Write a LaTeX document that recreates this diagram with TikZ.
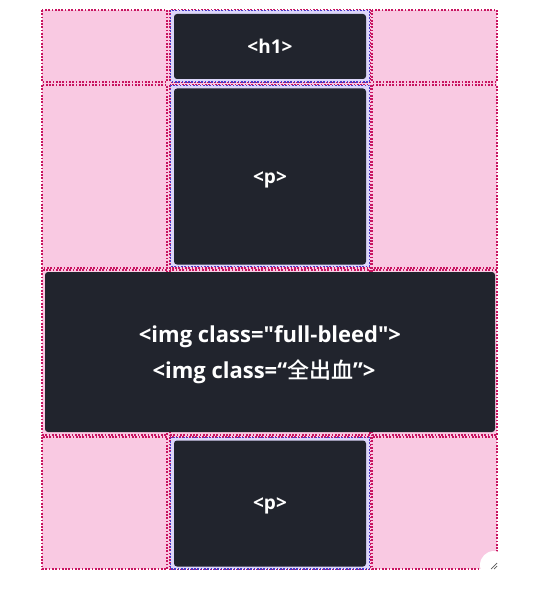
\documentclass[tikz,border=0pt]{standalone}
\usepackage{fontspec}
\setmainfont{Open Sans}[Ligatures=TeXOff]
\newfontfamily\cjkfont{Noto Sans CJK SC}[BoldFont={* Medium}]
\definecolor{pinkfill}{HTML}{F9C9E2}
\definecolor{pinkline}{HTML}{C81460}
\definecolor{blueline}{HTML}{4A3AC8}
\definecolor{lavfill}{HTML}{DCD6FA}
\definecolor{darkbox}{HTML}{21242D}
\tikzset{
  pinkcell/.style={draw=pinkline, line width=1.7pt, dash pattern=on 1.7pt off 1.6pt},
  bluecell/.style={draw=blueline, fill=lavfill, line width=1.7pt, dash pattern=on 1.7pt off 1.6pt},
  item/.style={fill=darkbox, rounded corners=3pt, inner sep=0pt},
  lbl/.style={text=white, font=\bfseries\fontsize{19}{22}\selectfont, inner sep=0pt, anchor=base},
  biglbl/.style={text=white, font=\bfseries\fontsize{22}{26}\selectfont, inner sep=0pt, anchor=base},
}
\begin{document}
\begin{tikzpicture}[x=1pt,y=-1pt]
\useasboundingbox (0,0) rectangle (553,591);
\fill[white] (0,0) rectangle (553,591);
% grid background
\fill[pinkfill] (42,10) rectangle (497,569);
% pink cell outlines
\foreach \ya/\yb in {10/82, 85/268, 270/435, 437/569}{
  \foreach \xa/\xb in {42/167, 170/370, 372/497}{
    \draw[pinkcell] (\xa,\ya) rectangle (\xb,\yb);
  }
}
% middle column content areas
\draw[bluecell] (170.5,10.5) rectangle (369.5,82);
\draw[bluecell] (170.5,85.5) rectangle (369.5,266.5);
\draw[bluecell] (170.5,437.5) rectangle (369.5,569);
% items
\node[item, minimum width=192pt, minimum height=65pt] (h1) at (270,46.5) {};
\node[item, minimum width=192pt, minimum height=176pt] (p1) at (270,176.5) {};
\node[item, minimum width=450pt, minimum height=160pt] (img) at (270,352) {};
\node[item, minimum width=192pt, minimum height=126pt] (p2) at (270,503.5) {};
% labels
\node[lbl] (h1t) at (270,54) {<h1>};
\node[lbl] (p1t) at (270,183) {<p>};
\node[biglbl] (imgt1) at (270,342.7) {<img class="full-bleed">};
\node[biglbl] (imgt2) at (264,378.3) {<img class=“{\cjkfont 全出血}”>};
\node[lbl] (p2t) at (270,509) {<p>};
% resize handle
\fill[white] (494,565) circle (14);
\draw[gray!70!black, line width=0.7pt] (491,569) -- (497,563) (494,569) -- (497,566);
\end{tikzpicture}
\end{document}
